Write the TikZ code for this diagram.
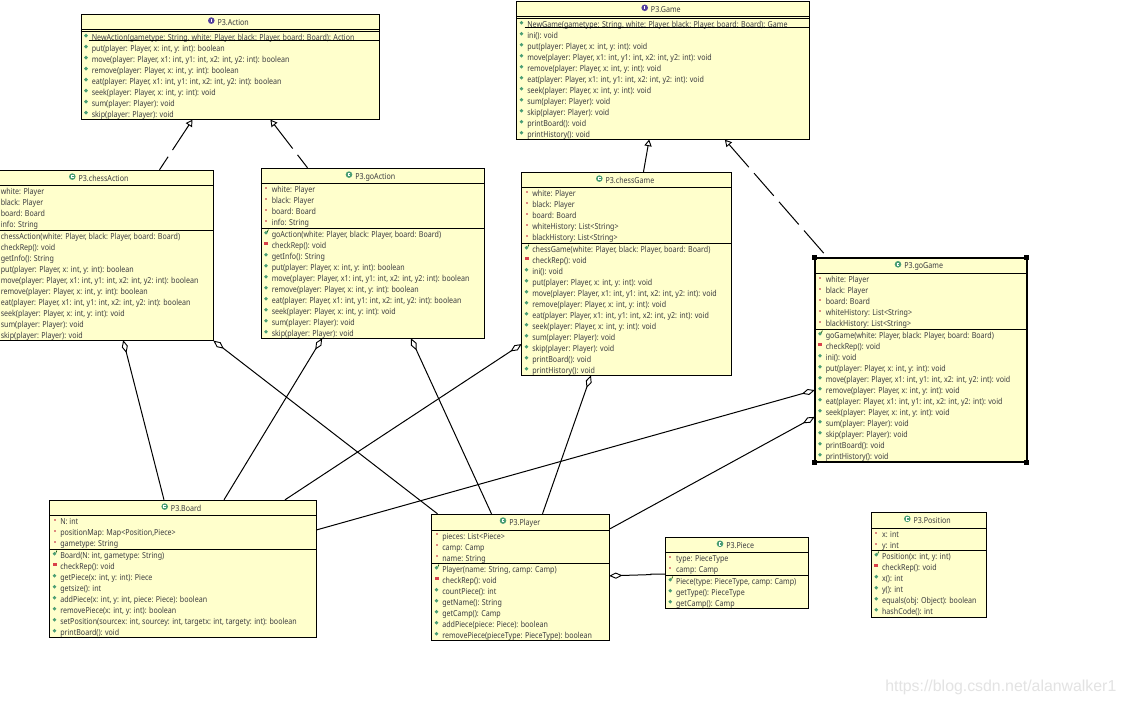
\documentclass[tikz,border=0pt]{standalone}
\usepackage{fontspec}
\usetikzlibrary{arrows.meta,calc}
\setmainfont[FakeStretch=0.86]{Noto Sans}
\newfontfamily\wmfont{Liberation Sans}
\definecolor{boxfill}{HTML}{FFFFCC}
\definecolor{pubgreen}{HTML}{4A9E74}
\definecolor{privred}{HTML}{D8404A}
\definecolor{attrred}{HTML}{DE8A80}
\definecolor{ifacepurple}{HTML}{54409E}
\definecolor{rowink}{HTML}{3C3C40}
\tikzset{
  classbox/.style={draw=black,fill=boxfill,line width=0.75pt,inner sep=0pt,rectangle},
  rowtext/.style={inner sep=0pt,text=rowink,font=\fontsize{6.2pt}{7pt}\selectfont},
  sepline/.style={line width=0.75pt,black},
  realize/.style={line width=0.75pt,black,dash pattern=on 22.5pt off 6pt,shorten <=-0.7pt,{Triangle[open,fill=white,length=5pt,width=5.5pt,line width=0.7pt]}-},
  aggreg/.style={line width=0.75pt,black,shorten <=-1pt,{Diamond[open,fill=white,length=10pt,width=4.6pt,line width=0.7pt]}-},
}
\newcommand\mka[2]{\fill[attrred] ($(#1,#2)+(-1,-1)$) rectangle ($(#1,#2)+(1,1)$);}
\newcommand\mkp[2]{\fill[pubgreen] (#1,#2) circle[radius=1.9];}
\newcommand\mkc[2]{\fill[pubgreen] (#1,#2) circle[radius=1.9];\draw[black!70!green,line width=0.5pt] ($(#1,#2)+(1.4,-1)$) -- ($(#1,#2)+(2.4,-3.2)$);}
\newcommand\mkr[2]{\fill[privred] ($(#1,#2)+(-2,-1.5)$) rectangle ($(#1,#2)+(2,1.5)$);}
\newcommand\classbox[7]{%
  \pgfmathsetmacro\bw{(#3-#2)*0.75}\pgfmathsetmacro\bh{(#7-#4)*0.75}%
  \node[classbox,minimum width=\bw pt,minimum height=\bh pt] (#1) at ({(#2+#3)/2},{(#4+#7)/2}) {};
  \draw[sepline] (#1.west |- 0,#5) -- (#1.east |- 0,#5);
  \draw[sepline] (#1.west |- 0,#6) -- (#1.east |- 0,#6);
}
\newcommand\classtitle[5]{% name, kind, text x, top, text
  \pgfmathsetmacro\ix{#3-6}\pgfmathsetmacro\iy{#4+6.3}\pgfmathsetmacro\ty{#4+10.8}%
  \ifx#2I
    \fill[ifacepurple] (\ix,\iy) circle[radius=3.3];
    \draw[white,line width=0.55pt] ($(\ix,\iy)+(0,-1.6)$) -- ($(\ix,\iy)+(0,1.6)$);
  \else
    \fill[pubgreen] (\ix,\iy) circle[radius=3.3];
    \draw[white,line width=0.5pt] ($(\ix,\iy)+(1.4,-1.2)$) -- ($(\ix,\iy)+(-1,-1.2)$) -- ($(\ix,\iy)+(-1,1.2)$) -- ($(\ix,\iy)+(1.4,1.2)$);
  \fi
  \node[rowtext,anchor=base west] (#1-title) at (#3,\ty) {#5};
}
\newcommand\rows[4]{% prefix, L, y0, list
  \foreach \k/\txt [count=\i from 0] in {#4} {
    \pgfmathsetmacro\yy{#3+11*\i}\pgfmathsetmacro\xx{#2+10.5}%
    \pgfmathsetmacro\mx{#2+5}\pgfmathsetmacro\my{\yy-1.6}\pgfmathsetmacro\by{\yy+3}%
    \csname mk\k\endcsname{\mx}{\my}
    \node[rowtext,anchor=base west] (#1-\i) at (\xx,\by) {\txt};
  }
}
\begin{document}
\begin{tikzpicture}[x=0.75pt,y=-0.75pt]
\useasboundingbox (0,0) rectangle (1124,704);
\fill[white] (0,0) rectangle (1124,704);

% Action
\classbox{Action}{81}{379.5}{14.3}{29.3}{31}{119.3}
\classtitle{Action}{I}{217.3}{14.3}{P3.Action}
\rows{Actionm}{81}{37.2}{
 p/{NewAction(gametype: String, white: Player, black: Player, board: Board): Action},
 p/{put(player: Player, x: int, y: int): boolean},
 p/{move(player: Player, x1: int, y1: int, x2: int, y2: int): boolean},
 p/{remove(player: Player, x: int, y: int): boolean},
 p/{eat(player: Player, x1: int, y1: int, x2: int, y2: int): boolean},
 p/{seek(player: Player, x: int, y: int): void},
 p/{sum(player: Player): void},
 p/{skip(player: Player): void}}
\draw[sepline] ($(Action.north west)+(8,26.2)$) -- ($(Action.north east)+(0,26.2)$);

% chessAction
\classbox{chessAction}{-10}{213.5}{170.3}{185.3}{230.3}{340.3}
\classtitle{chessAction}{C}{78.3}{170.3}{P3.chessAction}
\rows{chessActiona}{-10}{191.2}{
 a/{white: Player}, a/{black: Player}, a/{board: Board}, a/{info: String}}
\rows{chessActionm}{-10}{236.2}{
 c/{chessAction(white: Player, black: Player, board: Board)},
 r/{checkRep(): void},
 p/{getInfo(): String},
 p/{put(player: Player, x: int, y: int): boolean},
 p/{move(player: Player, x1: int, y1: int, x2: int, y2: int): boolean},
 p/{remove(player: Player, x: int, y: int): boolean},
 p/{eat(player: Player, x1: int, y1: int, x2: int, y2: int): boolean},
 p/{seek(player: Player, x: int, y: int): void},
 p/{sum(player: Player): void},
 p/{skip(player: Player): void}}

% goAction
\classbox{goAction}{261}{484.5}{168.3}{183.7}{228.3}{338.3}
\classtitle{goAction}{C}{355}{168.3}{P3.goAction}
\rows{goActiona}{261}{189.3}{
 a/{white: Player}, a/{black: Player}, a/{board: Board}, a/{info: String}}
\rows{goActionm}{261}{234.3}{
 c/{goAction(white: Player, black: Player, board: Board)},
 r/{checkRep(): void},
 p/{getInfo(): String},
 p/{put(player: Player, x: int, y: int): boolean},
 p/{move(player: Player, x1: int, y1: int, x2: int, y2: int): boolean},
 p/{remove(player: Player, x: int, y: int): boolean},
 p/{eat(player: Player, x1: int, y1: int, x2: int, y2: int): boolean},
 p/{seek(player: Player, x: int, y: int): void},
 p/{sum(player: Player): void},
 p/{skip(player: Player): void}}

% Game
\classbox{Game}{516.5}{809.5}{1.5}{16}{18}{139.3}
\classtitle{Game}{I}{650.7}{1.5}{P3.Game}
\rows{Gamem}{516.5}{24.3}{
 p/{NewGame(gametype: String, white: Player, black: Player, board: Board): Game},
 p/{ini(): void},
 p/{put(player: Player, x: int, y: int): void},
 p/{move(player: Player, x1: int, y1: int, x2: int, y2: int): void},
 p/{remove(player: Player, x: int, y: int): void},
 p/{eat(player: Player, x1: int, y1: int, x2: int, y2: int): void},
 p/{seek(player: Player, x: int, y: int): void},
 p/{sum(player: Player): void},
 p/{skip(player: Player): void},
 p/{printBoard(): void},
 p/{printHistory(): void}}
\draw[sepline] ($(Game.north west)+(8.5,26)$) -- ($(Game.north east)+(0,26)$);

% chessGame
\classbox{chessGame}{521.5}{731.5}{172.3}{187.7}{243.6}{375.5}
\classtitle{chessGame}{C}{605.3}{172.3}{P3.chessGame}
\rows{chessGamea}{521.5}{193.3}{
 a/{white: Player}, a/{black: Player}, a/{board: Board},
 a/{whiteHistory: List<String>}, a/{blackHistory: List<String>}}
\rows{chessGamem}{521.5}{249.3}{
 c/{chessGame(white: Player, black: Player, board: Board)},
 r/{checkRep(): void},
 p/{ini(): void},
 p/{put(player: Player, x: int, y: int): void},
 p/{move(player: Player, x1: int, y1: int, x2: int, y2: int): void},
 p/{remove(player: Player, x: int, y: int): void},
 p/{eat(player: Player, x1: int, y1: int, x2: int, y2: int): void},
 p/{seek(player: Player, x: int, y: int): void},
 p/{sum(player: Player): void},
 p/{skip(player: Player): void},
 p/{printBoard(): void},
 p/{printHistory(): void}}

% goGame (selected)
\classbox{goGame}{815}{1026}{258}{273.5}{329.3}{461.7}
\draw[line width=1.5pt,black] (goGame.north west) rectangle (goGame.south east);
\foreach \c in {north west,north east,south west,south east}{
  \fill[black] ($(goGame.\c)+(-2.5,-2.5)$) rectangle ($(goGame.\c)+(2.5,2.5)$);
}
\classtitle{goGame}{C}{904}{258}{P3.goGame}
\rows{goGamea}{815}{279.3}{
 a/{white: Player}, a/{black: Player}, a/{board: Board},
 a/{whiteHistory: List<String>}, a/{blackHistory: List<String>}}
\rows{goGamem}{815}{335.3}{
 c/{goGame(white: Player, black: Player, board: Board)},
 r/{checkRep(): void},
 p/{ini(): void},
 p/{put(player: Player, x: int, y: int): void},
 p/{move(player: Player, x1: int, y1: int, x2: int, y2: int): void},
 p/{remove(player: Player, x: int, y: int): void},
 p/{eat(player: Player, x1: int, y1: int, x2: int, y2: int): void},
 p/{seek(player: Player, x: int, y: int): void},
 p/{sum(player: Player): void},
 p/{skip(player: Player): void},
 p/{printBoard(): void},
 p/{printHistory(): void}}

% Board
\classbox{Board}{49.5}{316.5}{500.3}{515.5}{549.4}{637.4}
\classtitle{Board}{C}{170.7}{500.3}{P3.Board}
\rows{Boarda}{49.5}{521.3}{
 a/{N: int}, a/{positionMap: Map<Position,Piece>}, a/{gametype: String}}
\rows{Boardm}{49.5}{555.3}{
 c/{Board(N: int, gametype: String)},
 r/{checkRep(): void},
 p/{getPiece(x: int, y: int): Piece},
 p/{getsize(): int},
 p/{addPiece(x: int, y: int, piece: Piece): boolean},
 p/{removePiece(x: int, y: int): boolean},
 p/{setPosition(sourcex: int, sourcey: int, targetx: int, targety: int): boolean},
 p/{printBoard(): void}}

% Player
\classbox{Player}{431.5}{609.5}{514.3}{530}{563.4}{640.8}
\classtitle{Player}{C}{509}{514.3}{P3.Player}
\rows{Playera}{431.5}{536}{
 a/{pieces: List<Piece>}, a/{camp: Camp}, a/{name: String}}
\rows{Playerm}{431.5}{569.3}{
 c/{Player(name: String, camp: Camp)},
 r/{checkRep(): void},
 p/{countPiece(): int},
 p/{getName(): String},
 p/{getCamp(): Camp},
 p/{addPiece(piece: Piece): boolean},
 p/{removePiece(pieceType: PieceType): boolean}}

% Piece
\classbox{Piece}{665.3}{808.3}{537.5}{552.7}{575.5}{608.4}
\classtitle{Piece}{C}{726}{537.5}{P3.Piece}
\rows{Piecea}{665.3}{558.4}{
 a/{type: PieceType}, a/{camp: Camp}}
\rows{Piecem}{665.3}{581.3}{
 c/{Piece(type: PieceType, camp: Camp)},
 p/{getType(): PieceType},
 p/{getCamp(): Camp}}

% Position
\classbox{Position}{871.3}{986.5}{512.5}{528.5}{550.3}{617.3}
\classtitle{Position}{C}{913.3}{512.5}{P3.Position}
\rows{Positiona}{871.3}{534.3}{
 a/{x: int}, a/{y: int}}
\rows{Positionm}{871.3}{556.3}{
 c/{Position(x: int, y: int)},
 r/{checkRep(): void},
 p/{x(): int},
 p/{y(): int},
 p/{equals(obj: Object): boolean},
 p/{hashCode(): int}}

% realization connectors
\draw[realize] ($(Action.south west)+(111.5,0.6)$) -- ($(chessAction.north west)+(170,0)$);
\draw[realize] ($(Action.south west)+(190.5,0.6)$) -- ($(goAction.north west)+(47,0)$);
\draw[realize] ($(Game.south west)+(133,0.6)$) -- ($(chessGame.north west)+(122.5,0)$);
\draw[realize] ($(Game.south west)+(209.5,0.6)$) -- ($(goGame.north west)+(13,0)$);

% aggregation connectors
\draw[aggreg] ($(chessAction.south west)+(134,0.6)$) -- ($(Board.north west)+(115,0)$);
\draw[aggreg] ($(chessAction.south east)+(0.4,0.6)$) -- ($(Player.north west)+(6.5,0)$);
\draw[aggreg] ($(goAction.south west)+(61,0.6)$) -- ($(Board.north west)+(175,0)$);
\draw[aggreg] ($(goAction.south west)+(151,0.6)$) -- ($(Player.north west)+(60.5,0)$);
\draw[aggreg] ($(chessGame.north west)+(-0.5,173)$) -- ($(Board.north west)+(236,0)$);
\draw[aggreg] ($(chessGame.south west)+(69.5,0.6)$) -- ($(Player.north west)+(111.5,0)$);
\draw[aggreg] ($(goGame.north west)+(-1,133)$) -- ($(Board.north east)+(0,30)$);
\draw[aggreg] ($(goGame.north west)+(-1,160)$) -- ($(Player.north east)+(0,15)$);
\draw[aggreg] ($(Player.north east)+(0.5,62)$) -- ($(Piece.north west)+(-14,37.6)$) -- ($(Piece.north west)+(-14,37)$) -- ($(Piece.north west)+(0,37)$);

% watermark
\node[anchor=base west,inner sep=0pt,text=black!11,font=\wmfont\fontsize{11.9pt}{14pt}\selectfont] (wm) at (885,691) {https://blog.csdn.net/alanwalker1};
\end{tikzpicture}
\end{document}
